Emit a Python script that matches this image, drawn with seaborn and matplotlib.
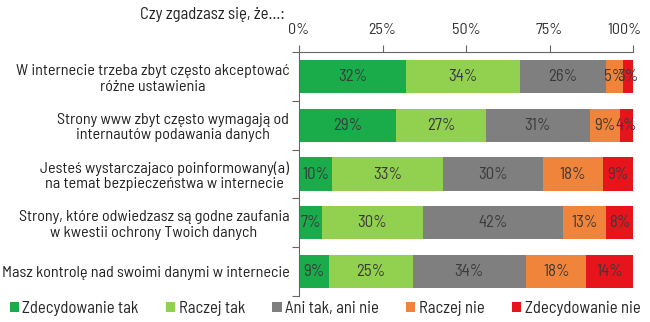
import matplotlib
matplotlib.use("Agg")
import matplotlib.pyplot as plt
import matplotlib.transforms as mtransforms
import seaborn as sns
import numpy as np
import pandas as pd
from matplotlib.patches import Patch

questions = [
    "W internecie trzeba zbyt często akceptować\nróżne ustawienia",
    "Strony www zbyt często wymagają od\ninternautów podawania danych",
    "Jesteś wystarczajaco poinformowany(a)\nna temat bezpieczeństwa w internecie",
    "Strony, które odwiedzasz są godne zaufania\nw kwestii ochrony Twoich danych",
    "Masz kontrolę nad swoimi danymi w internecie",
]
series = ["Zdecydowanie tak", "Raczej tak", "Ani tak, ani nie", "Raczej nie", "Zdecydowanie nie"]
zdecydowanie_tak = [32, 29, 10, 7, 9]
raczej_tak = [34, 27, 33, 30, 25]
ani_tak_ani_nie = [26, 31, 30, 42, 34]
raczej_nie = [5, 9, 18, 13, 18]
zdecydowanie_nie = [3, 4, 9, 8, 14]
ticks = [0, 25, 50, 75, 100]
tick_labels = ["0%", "25%", "50%", "75%", "100%"]
title = "Czy zgadzasz się, że…:"

colors = ["#1aab4b", "#92d050", "#7f7f7f", "#f0843a", "#e8141c"]

sns.set_theme(style="white")
FONT = ["Barlow Semi Condensed", "Roboto Condensed", "DejaVu Sans"]
plt.rcParams["font.family"] = FONT

values = np.array([zdecydowanie_tak, raczej_tak, ani_tak_ani_nie, raczej_nie, zdecydowanie_nie])
cum = np.cumsum(values, axis=0)

fig = plt.figure(figsize=(6.5, 3.22), dpi=100)
ax = fig.add_axes([0.46, 0.081, 0.514, 0.757])

for i in range(len(series) - 1, -1, -1):
    df = pd.DataFrame({"q": questions, "v": cum[i]})
    sns.barplot(data=df, y="q", x="v", orient="h", color=colors[i], width=0.68,
                saturation=1, ax=ax, linewidth=0)

for i in range(len(series)):
    for j in range(len(questions)):
        start = cum[i][j] - values[i][j]
        ax.text(start + values[i][j] / 2, j, f"{values[i][j]}%", ha="center", va="center",
                fontsize=12, color="#3a3a3a")

ax.set_xlim(0, 100)
ax.set_ylim(len(questions) - 0.5, -0.5)
ax.xaxis.tick_top()
ax.set_xticks(ticks)
ax.set_xticklabels(tick_labels, fontsize=11.5, color="#333333")
ax.tick_params(axis="x", direction="out", length=5, width=0.8, color="#666666", pad=6,
               top=True, bottom=False)
ax.set_xlabel("")
ax.set_ylabel("")
ax.set_yticks(range(len(questions)))
ax.set_yticklabels(questions, fontsize=11.6, color="#222222", linespacing=1.15)
ax.tick_params(axis="y", length=0, pad=7)
ax.set_yticks(np.arange(-0.5, len(questions), 1), minor=True)
ax.tick_params(axis="y", which="minor", direction="out", length=5, width=0.8, color="#666666", left=True)
for t in ax.get_yticklabels():
    t.set_ha("right")
    t.set_multialignment("center")
for s in ["right", "bottom"]:
    ax.spines[s].set_visible(False)
for s in ["top", "left"]:
    ax.spines[s].set_color("#666666")
    ax.spines[s].set_linewidth(0.8)

last = ax.get_xticklabels()[-1]
last.set_ha("right")
last.set_transform(last.get_transform() + mtransforms.ScaledTranslation(8 / 100, 0, fig.dpi_scale_trans))

fig.text(285 / 650, 1 - 14 / 322, title, ha="right", va="center", fontsize=12, color="#222222")

handles = [Patch(facecolor=c, edgecolor="none") for c in colors]
fig.legend(handles, series, loc="center", bbox_to_anchor=(0.5, 1 - 308 / 322), ncol=5, frameon=False,
           fontsize=12, handlelength=0.55, handleheight=0.55, handletextpad=0.2, columnspacing=1.65,
           borderaxespad=0, borderpad=0)

fig.savefig("out.png", dpi=100)
